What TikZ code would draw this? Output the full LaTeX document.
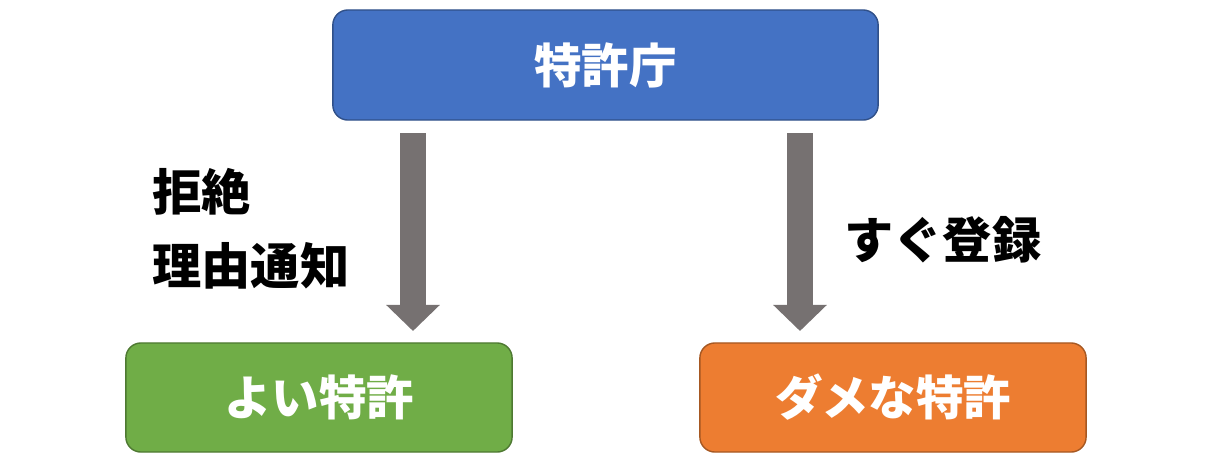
\documentclass[tikz,border=0pt]{standalone}
\usepackage{fontspec}
\newfontfamily\cjk{Noto Sans CJK JP}
\usetikzlibrary{arrows.meta,positioning}
\definecolor{kblue}{HTML}{4472C4}
\definecolor{kgreen}{HTML}{70AD47}
\definecolor{korange}{HTML}{ED7D31}
\definecolor{kgray}{HTML}{767171}
\begin{document}
\begin{tikzpicture}[x=0.01cm,y=-0.01cm,
  box/.style={draw=#1!70!black,fill=#1,rounded corners=0.15cm,minimum width=3.86cm,
    minimum height=1.09cm,text=white,font=\cjk\bfseries\fontsize{13.5}{16}\selectfont},
  block arrow/.style={draw=kgray,line width=0.26cm,
    -{Triangle[width=0.52cm,length=0.26cm]}},
  note/.style={font=\cjk\bfseries\fontsize{14}{21}\selectfont,align=left}]
\useasboundingbox (0,0) rectangle (1232,460);

% boxes
\node[box=kblue,minimum width=5.45cm,minimum height=1.1cm] (office) at (605.5,65) {特許庁};
\node[box=kgreen] (good) at (319,397.5) {よい特許};
\node[box=korange] (bad) at (893,397.5) {ダメな特許};

% arrows
\coordinate (l1) at (413,133);
\coordinate (l2) at (413,331);
\coordinate (r1) at (800,133);
\coordinate (r2) at (800,331);
\draw[block arrow] (l1) -- (l2);
\draw[block arrow] (r1) -- (r2);

% labels
\node[note,anchor=west] (reject) at (140,229) {拒絶\\理由通知};
\node[note,anchor=west] (grant) at (832,240) {すぐ登録};
\end{tikzpicture}
\end{document}
